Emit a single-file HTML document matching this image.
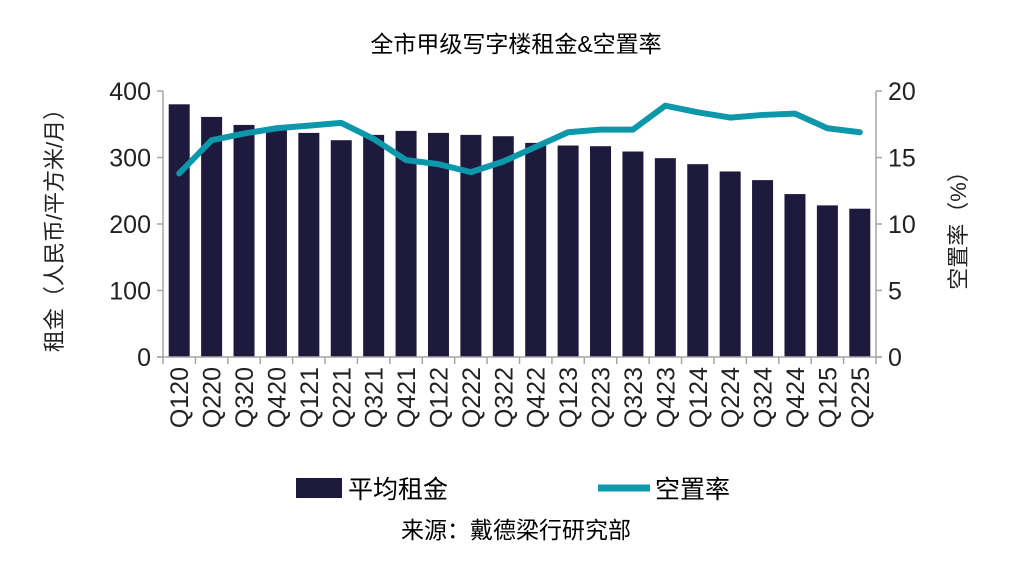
<!DOCTYPE html>
<html><head><meta charset="utf-8">
<style>
body{margin:0;background:#fff;width:1033px;height:568px;overflow:hidden;font-family:"Liberation Sans","Noto Sans CJK SC",sans-serif;}
svg text{font-family:"Liberation Sans","Noto Sans CJK SC",sans-serif;}
</style></head>
<body>
<svg id="chart" width="1033" height="568" viewBox="0 0 1033 568" xmlns="http://www.w3.org/2000/svg">
<text x="516" y="52" text-anchor="middle" font-size="23" fill="#000">全市甲级写字楼租金&amp;空置率</text>
<g id="plot"></g>
<text transform="translate(62,225) rotate(-90)" text-anchor="middle" font-size="22" fill="#222">租金（人民币/平方米/月）</text>
<text transform="translate(966,225) rotate(-90)" text-anchor="middle" font-size="22" fill="#222">空置率（%）</text>
<g>
<rect x="296" y="478" width="46" height="20" fill="#1e1a3e"/>
<text x="348" y="498" font-size="25" fill="#000">平均租金</text>
<line x1="598" y1="488" x2="650" y2="488" stroke="#0d97aa" stroke-width="7"/>
<text x="655" y="498" font-size="25" fill="#000">空置率</text>
</g>
<text x="516" y="538" text-anchor="middle" font-size="23" fill="#000">来源：戴德梁行研究部</text>
</svg>
<script>
const categories=["Q120","Q220","Q320","Q420","Q121","Q221","Q321","Q421","Q122","Q222","Q322","Q422","Q123","Q223","Q323","Q423","Q124","Q224","Q324","Q424","Q125","Q225"];
const rentValues=[380,361,349,341,337,326,334,340,337,334,332,322,318,317,309,299,290,279,266,245,228,223];
const vacancyValues=[13.8,16.3,16.8,17.2,17.4,17.6,16.4,14.8,14.5,13.9,14.7,15.8,16.9,17.1,17.1,18.9,18.4,18.0,18.2,18.3,17.2,16.9];
const leftTicks=[0,100,200,300,400];
const rightTicks=[0,5,10,15,20];

const NS="http://www.w3.org/2000/svg";
const g=document.getElementById('plot');
const X0=163,X1=876,Y0=357,Y1=91;
const band=(X1-X0)/categories.length;
const yL=v=>Y0-(v/400)*(Y0-Y1);
const yR=v=>Y0-(v/20)*(Y0-Y1);
const xC=i=>X0+band*(i+0.5);
function mk(t,a){const e=document.createElementNS(NS,t);for(const k in a)e.setAttribute(k,a[k]);g.appendChild(e);return e;}

rentValues.forEach((v,i)=>{
 const r=mk('rect',{x:xC(i)-10.5,y:yL(v),width:21,height:Y0-yL(v),fill:'#1e1a3e'});
 
 
});
let a=mk('line',{x1:X0,y1:Y1,x2:X0,y2:Y0,stroke:'#a6a6a6','stroke-width':1.5});


a=mk('line',{x1:X1,y1:Y1,x2:X1,y2:Y0,stroke:'#a6a6a6','stroke-width':1.5});


a=mk('line',{x1:X0-6,y1:Y0,x2:X1+6,y2:Y0,stroke:'#a6a6a6','stroke-width':1.5});


leftTicks.forEach(v=>{
 mk('line',{x1:X0-6,y1:yL(v),x2:X0,y2:yL(v),stroke:'#a6a6a6','stroke-width':1.5});
 const t=mk('text',{x:X0-12,y:yL(v)+9,'text-anchor':'end','font-size':25,fill:'#222'});
 t.textContent=v;
 
 
});
rightTicks.forEach(v=>{
 mk('line',{x1:X1,y1:yR(v),x2:X1+6,y2:yR(v),stroke:'#a6a6a6','stroke-width':1.5});
 const t=mk('text',{x:X1+12,y:yR(v)+9,'text-anchor':'start','font-size':25,fill:'#222'});
 t.textContent=v;
 
 
});
for(let i=0;i<=categories.length;i++){
 mk('line',{x1:X0+band*i,y1:Y0,x2:X0+band*i,y2:Y0+7,stroke:'#a6a6a6','stroke-width':1.5});
}
categories.forEach((c,i)=>{
 const t=mk('text',{transform:`translate(${xC(i)+9},${Y0+10}) rotate(-90)`,'text-anchor':'end','font-size':25,fill:'#222'});
 t.textContent=c;
 
 
});
const pts=vacancyValues.map((v,i)=>xC(i)+','+yR(v)).join(' ');
const l=mk('polyline',{points:pts,fill:'none',stroke:'#0d97aa','stroke-width':6,'stroke-linejoin':'round','stroke-linecap':'round'});


</script>
</body></html>
